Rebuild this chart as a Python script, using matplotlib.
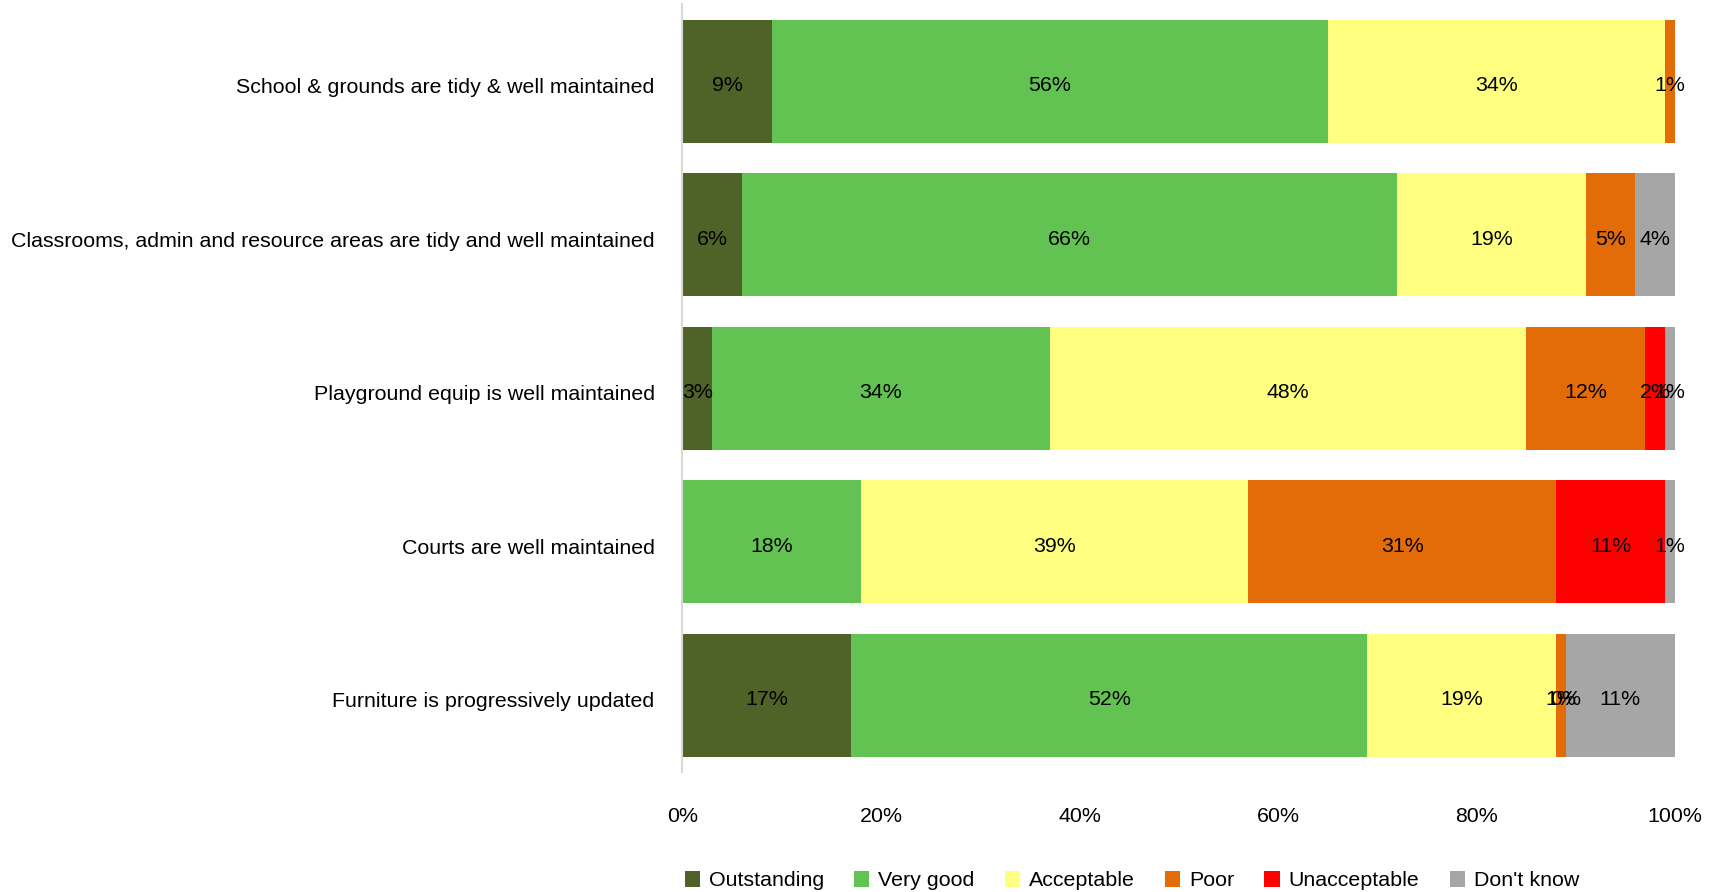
import numpy as np
import matplotlib.pyplot as plt
from matplotlib.patches import Patch

plt.rcParams['font.family'] = ['Liberation Sans', 'DejaVu Sans']

# survey items, top to bottom
questions = [
    "School & grounds are tidy & well maintained",
    "Classrooms, admin and resource areas are tidy and well maintained",
    "Playground equip is well maintained",
    "Courts are well maintained",
    "Furniture is progressively updated",
]
ratings = ["Outstanding", "Very good", "Acceptable", "Poor", "Unacceptable", "Don't know"]
colors = ["#4F6228", "#62C352", "#FFFF80", "#E36C09", "#FF0000", "#A6A6A6"]

# percent of responses per rating (nan = no response in that category)
outstanding = [9, 6, 3, np.nan, 17]
very_good = [56, 66, 34, 18, 52]
acceptable = [34, 19, 48, 39, 19]
poor = [1, 5, 12, 31, 1]
unacceptable = [np.nan, np.nan, 2, 11, 0]
dont_know = [np.nan, 4, 1, 1, 11]

series = [outstanding, very_good, acceptable, poor, unacceptable, dont_know]

FS = 15.4
DY = 0.03  # text sits a touch below the bar centre

fig = plt.figure(figsize=(17.19, 8.92), dpi=100)
ax = fig.add_axes([0.397, 0.1345, 0.5774, 0.8605])

y = np.arange(len(questions))
left = np.zeros(len(questions))
for name, vals, col in zip(ratings, series, colors):
    vals = np.array(vals, dtype=float)
    w = np.nan_to_num(vals) / 100
    ax.barh(y, w, left=left, height=0.8, color=col, label=name)
    for i, v in enumerate(vals):
        if not np.isnan(v):
            ax.text(left[i] + w[i] / 2, y[i] + DY, f"{v:.0f}%", ha="center", va="center",
                    fontsize=FS, color="black")
    left += w

ax.set_xlim(0, 1)
ax.set_ylim(len(questions) - 0.5, -0.5)
ax.set_yticks(y + DY)
ax.set_yticklabels(questions, fontsize=FS)
ax.set_xticks(np.linspace(0, 1, 6))
ax.set_xticklabels([f"{int(t)}%" for t in np.linspace(0, 100, 6)], fontsize=FS)
ax.tick_params(axis="y", length=0, pad=20)
ax.tick_params(axis="x", length=0, pad=25)
for s in ["top", "right", "bottom"]:
    ax.spines[s].set_visible(False)
ax.spines["left"].set_color("#D9D9D9")
ax.spines["left"].set_linewidth(1.5)

handles = [Patch(facecolor=c, edgecolor="none") for c in colors]
fig.legend(handles, ratings, loc="center left", bbox_to_anchor=(0.387, 0.0125), ncol=6,
           frameon=False, fontsize=FS, handlelength=0.72, handleheight=0.72,
           handletextpad=0.42, columnspacing=1.4)

fig.savefig("out.png", dpi=100)
